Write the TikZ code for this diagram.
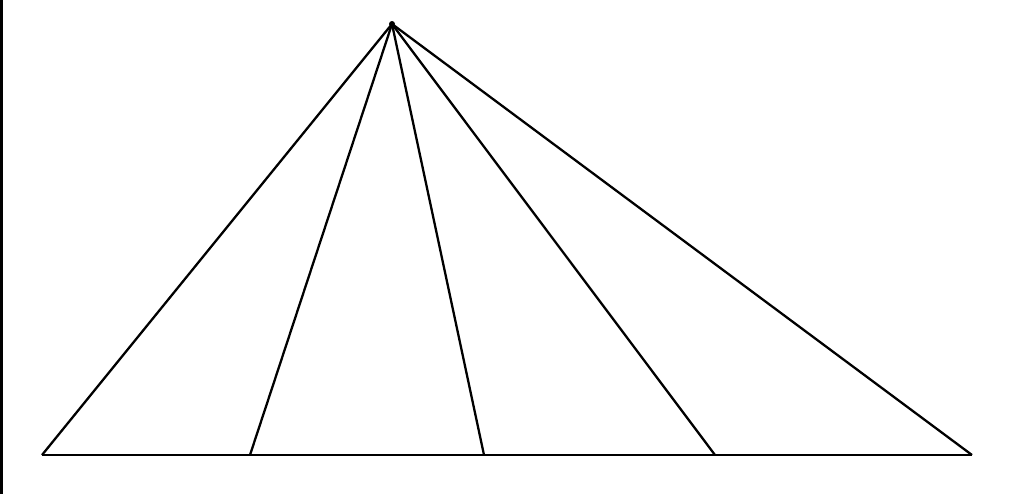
\documentclass[tikz,border=0pt]{standalone}
\usepackage{xcolor}
\usepackage{tikz}
\usetikzlibrary{positioning}

\begin{document}
\begin{tikzpicture}[x=0.02cm, y=-0.02cm]
        \useasboundingbox (0,0) rectangle (1024,494);
        \draw[line width=2.2pt] (1,0)--(1,494);

        % apex and foot points
        \coordinate (top) at (392,24);
        \coordinate (b1) at (42,455);
        \coordinate (b2) at (250,455);
        \coordinate (b3) at (484,455);
        \coordinate (b4) at (715,455);
        \coordinate (b5) at (972,455);

        % base
        \draw[line width=1.5pt] (b1)--(b5);

        % rays from the apex
        \foreach \i in {1,...,5} \draw[line width=1.3pt] (top)--(b\i);
        \fill (top) circle (3);
    \end{tikzpicture}
\end{document}
